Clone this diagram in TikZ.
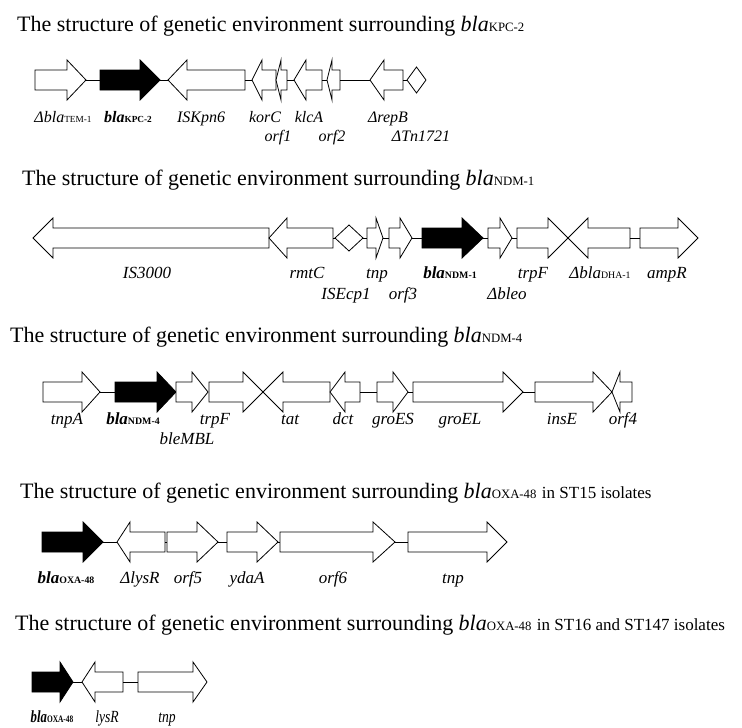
\documentclass[tikz,border=0pt]{standalone}
\usepackage{fontspec}
\setmainfont{Liberation Serif}
\usepackage{graphicx}
\newcommand\smc[1]{\scalebox{0.58}{\upshape #1}}
\newcommand\gR[6]{%
  \draw[#6] (#3,#2-10) -- (#4,#2-10) -- (#4,#2-20) -- (#5,#2) -- (#4,#2+20) -- (#4,#2+10) -- (#3,#2+10) -- cycle;
  \coordinate (#1-l) at (#3,#2); \coordinate (#1-r) at (#5,#2);}
\newcommand\gL[6]{%
  \draw[#6] (#3,#2) -- (#4,#2-20) -- (#4,#2-10) -- (#5,#2-10) -- (#5,#2+10) -- (#4,#2+10) -- (#4,#2+20) -- cycle;
  \coordinate (#1-l) at (#3,#2); \coordinate (#1-r) at (#5,#2);}
\newcommand\gD[5]{% name, y, cx, halfwidth, halfheight
  \draw[gene] (#3-#4,#2) -- (#3,#2-#5) -- (#3+#4,#2) -- (#3,#2+#5) -- cycle;
  \coordinate (#1-l) at (#3-#4,#2); \coordinate (#1-r) at (#3+#4,#2);}
\newcommand\ttltext{The structure of genetic environment surrounding}
\tikzset{
  gene/.style={draw=black, line width=0.8pt, fill=white, line join=miter},
  blk/.style={draw=black, line width=0.8pt, fill=black, line join=miter},
  link/.style={draw=black, line width=0.8pt},
  ttl/.style={anchor=base west, inner sep=0pt, font=\fontsize{22}{24}\selectfont},
  lbl/.style={anchor=base, inner sep=0pt, font=\fontsize{17}{19}\selectfont\itshape},
  lbs/.style={anchor=base, inner sep=0pt, font=\fontsize{16}{18}\selectfont\itshape},
}
\begin{document}
\begin{tikzpicture}[x=1pt,y=-1pt]
\useasboundingbox (0,0) rectangle (742,728);
\fill[white] (0,0) rectangle (742,728);

% ---------- Row 1 ----------
\node[ttl] (t1) at (17,31) {\ttltext\ \textit{bla}\smc{KPC-2}};
\gR{tem}{80}{35}{67}{86}{gene}
\gR{kpc}{80}{100}{140}{160}{blk}
\gL{iskpn}{80}{168}{187}{245}{gene}
\gL{korc}{80}{252}{262}{276}{gene}
\gL{orfa}{80}{276}{281}{287}{gene}
\gL{klca}{80}{294}{306}{322}{gene}
\gL{orfb}{80}{327}{332}{340}{gene}
\gL{repb}{80}{370}{384}{403}{gene}
\gD{dia}{80}{416.5}{9.5}{13}
\draw[link] (tem-r) -- (kpc-l);
\draw[link] (kpc-r) -- (iskpn-l);
\draw[link] (iskpn-r) -- (korc-l);
\draw[link] (orfa-r) -- (klca-l);
\draw[link] (klca-r) -- (orfb-l);
\draw[link] (orfb-r) -- (repb-l);
\draw[link] (repb-r) -- (dia-l);
\node[lbs] (l11) at (63,122) {Δ\textit{bla}\smc{TEM-1}};
\node[lbs] (l12) at (128,122) {\bfseries\textit{bla}\smc{KPC-2}};
\node[lbs] (l13) at (201,122) {ISKpn6};
\node[lbs] (l14) at (265,122) {korC};
\node[lbs] (l15) at (309,122) {klcA};
\node[lbs] (l16) at (388,122) {ΔrepB};
\node[lbs] (l17) at (278,141) {orf1};
\node[lbs] (l18) at (332,141) {orf2};
\node[lbs] (l19) at (421,141) {ΔTn1721};

% ---------- Row 2 ----------
\node[ttl] (t2) at (22,185) {\ttltext\ \textit{bla}\smc{NDM-1}};
\gL{isz}{238}{33}{53}{269}{gene}
\gL{rmtc}{238}{269}{287}{333}{gene}
\gD{diab}{238}{349}{14}{13}
\gR{tnpb}{238}{367}{376}{383}{gene}
\gR{orfc}{238}{389}{400}{412}{gene}
\gR{ndma}{238}{422}{462}{483}{blk}
\gR{bleo}{238}{488}{500}{512}{gene}
\gR{trpb}{238}{517}{548}{568}{gene}
\gL{dha}{238}{568}{588}{630}{gene}
\gR{ampr}{238}{640}{678}{698}{gene}
\draw[link] (rmtc-r) -- (diab-l);
\draw[link] (diab-r) -- (tnpb-l);
\draw[link] (tnpb-r) -- (orfc-l);
\draw[link] (orfc-r) -- (ndma-l);
\draw[link] (ndma-r) -- (bleo-l);
\draw[link] (bleo-r) -- (trpb-l);
\draw[link] (dha-r) -- (ampr-l);
\node[lbl] (l21) at (147,278) {IS3000};
\node[lbl] (l22) at (307,278) {rmtC};
\node[lbl] (l23) at (377,278) {tnp};
\node[lbl] (l24) at (450,278) {\bfseries\textit{bla}\smc{NDM-1}};
\node[lbl] (l25) at (533,278) {trpF};
\node[lbl] (l26) at (600,278) {Δ\textit{bla}\smc{DHA-1}};
\node[lbl] (l27) at (667,278) {ampR};
\node[lbl] (l28) at (346,299) {ISEcp1};
\node[lbl] (l29) at (403,299) {orf3};
\node[lbl] (l2a) at (507,299) {Δbleo};

% ---------- Row 3 ----------
\node[ttl] (t3) at (10,342) {\ttltext\ \textit{bla}\smc{NDM-4}};
\gR{tnpa}{392}{43}{82}{100}{gene}
\gR{ndmb}{392}{115}{157}{176}{blk}
\gR{mbl}{392}{176}{192}{208}{gene}
\gR{trpc}{392}{209}{243}{263}{gene}
\gL{tat}{392}{263}{283}{330}{gene}
\gL{dct}{392}{330}{345}{360}{gene}
\gR{groes}{392}{377}{393}{408}{gene}
\gR{groel}{392}{413}{503}{523}{gene}
\gR{inse}{392}{535}{593}{612}{gene}
\gL{orfd}{392}{612}{620}{632}{gene}
\draw[link] (tnpa-r) -- (ndmb-l);
\draw[link] (dct-r) -- (groes-l);
\draw[link] (groes-r) -- (groel-l);
\draw[link] (groel-r) -- (inse-l);
\node[lbl] (l31) at (67,424) {tnpA};
\node[lbl] (l32) at (133,424) {\bfseries\textit{bla}\smc{NDM-4}};
\node[lbl] (l33) at (215,424) {trpF};
\node[lbl] (l34) at (290,424) {tat};
\node[lbl] (l35) at (343,424) {dct};
\node[lbl] (l36) at (393,424) {groES};
\node[lbl] (l37) at (460,424) {groEL};
\node[lbl] (l38) at (562,424) {insE};
\node[lbl] (l39) at (623,424) {orf4};
\node[lbl] (l3a) at (187,444) {bleMBL};

% ---------- Row 4 ----------
\node[ttl] (t4) at (20,498) {\ttltext\ \textit{bla}\smc{OXA-48} {\fontsize{17}{19}\selectfont in ST15 isolates}};
\gR{oxa}{542}{42}{83}{103}{blk}
\gL{lysr}{542}{117}{130}{165}{gene}
\gR{orfe}{542}{167}{197}{218}{gene}
\gR{ydaa}{542}{227}{257}{278}{gene}
\gR{orff}{542}{280}{373}{395}{gene}
\gR{tnpc}{542}{408}{487}{507}{gene}
\draw[link] (oxa-r) -- (lysr-l);
\draw[link] (lysr-r) -- (orfe-l);
\draw[link] (orfe-r) -- (ydaa-l);
\draw[link] (ydaa-r) -- (orff-l);
\draw[link] (orff-r) -- (tnpc-l);
\node[lbl] (l41) at (66,583) {\bfseries\textit{bla}\smc{OXA-48}};
\node[lbl] (l42) at (140,583) {ΔlysR};
\node[lbl] (l43) at (188,583) {orf5};
\node[lbl] (l44) at (247,583) {ydaA};
\node[lbl] (l45) at (333,583) {orf6};
\node[lbl] (l46) at (453,583) {tnp};

% ---------- Row 5 ----------
\node[ttl] (t5) at (15,630) {\ttltext\ \textit{bla}\smc{OXA-48} {\fontsize{17}{19}\selectfont in ST16 and ST147 isolates}};
\gR{oxb}{682}{32}{60}{73}{blk}
\gL{lysb}{682}{82}{95}{123}{gene}
\gR{tnpd}{682}{138}{193}{207}{gene}
\draw[link] (oxb-r) -- (lysb-l);
\draw[link] (lysb-r) -- (tnpd-l);
\node[lbl] (l51) at (52,722) {\scalebox{0.75}[1]{\bfseries\textit{bla}\smc{OXA-48}}};
\node[lbl] (l52) at (107,722) {\scalebox{0.8}[1]{lysR}};
\node[lbl] (l53) at (167,722) {\scalebox{0.8}[1]{tnp}};
\end{tikzpicture}
\end{document}
